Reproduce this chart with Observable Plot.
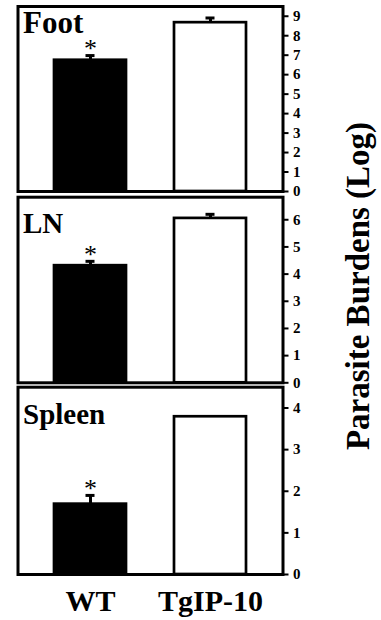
<!DOCTYPE html>
<html>
<head>
<meta charset="utf-8">
<script src="https://cdn.jsdelivr.net/npm/d3@7"></script>
<script src="https://cdn.jsdelivr.net/npm/@observablehq/plot@0.6"></script>
<style>
  body { margin: 0; background: #fff; }
  #chart { position: relative; width: 381px; height: 620px; overflow: hidden;
           font-family: "Liberation Serif", Tinos, "Times New Roman", Times, "DejaVu Serif", serif; font-weight: bold; color: #000; }
  #chart svg { position: absolute; left: 0; }
  #ytitle { position: absolute; left: 358px; top: 286px; white-space: nowrap;
            transform: translate(-50%, -50%) rotate(-90deg); font-size: 33px; line-height: 1; }
</style>
</head>
<body>
<div id="chart"><div id="ytitle">Parasite Burdens (Log)</div></div>
<script>
// Mouse groups and tissues
const groups = ["WT", "TgIP-10"];
const tissues = ["Foot", "LN", "Spleen"];

// Mean parasite burden (log) and upper error per group
const footMeans = [6.74, 8.67];
const footErrors = [0.24, 0.24];
const lnMeans = [4.31, 6.05];
const lnErrors = [0.16, 0.15];
const spleenMeans = [1.69, 3.79];
const spleenErrors = [0.21, 0];

// Significant difference versus TgIP-10
const significant = [true, false];

// Axis limits and tick values per tissue
const footLimit = 9.5;
const lnLimit = 6.83;
const spleenLimit = 4.5;
const footTicks = [0, 1, 2, 3, 4, 5, 6, 7, 8, 9];
const lnTicks = [0, 1, 2, 3, 4, 5, 6];
const spleenTicks = [0, 1, 2, 3, 4];

const serif = "'Liberation Serif', Tinos, 'Times New Roman', Times, 'DejaVu Serif', serif";
const chart = document.getElementById("chart");
const svgStyle = `background: transparent; overflow: visible; font-family: ${serif}; font-weight: bold;`;

function panel({name, means, errors, limit, ticks, top, height, marginTop, marginBottom, showX, labelDy, labelSize}) {
  const rows = groups.map((g, i) => ({group: g, mean: means[i], err: errors[i], sig: significant[i]}));
  const withErr = rows.filter(d => d.err > 0);
  const marks = [
    Plot.barY(rows, {x: "group", y: "mean", fill: "group", stroke: "black", strokeWidth: 2.7}),
    Plot.ruleX(withErr, {x: "group", y1: "mean", y2: d => d.mean + d.err, strokeWidth: 3}),
    Plot.tickY(withErr, {x: "group", y: d => d.mean + d.err, strokeWidth: 3, insetLeft: 31.5, insetRight: 31.5}),
    Plot.text(rows.filter(d => d.sig), {x: "group", y: d => d.mean + d.err, text: () => "*", fontSize: 26, fontFamily: serif, fontWeight: "normal", dy: -7}),
    Plot.text([name], {frameAnchor: "top-left", textAnchor: "start", lineAnchor: "top", dx: 5, dy: labelDy, fontSize: labelSize, fontFamily: serif, fontWeight: "bold"}),
    Plot.frame({strokeWidth: 3}),
    Plot.axisY({ticks, tickFormat: "d", anchor: "right", tickSize: 5, tickPadding: 5, strokeWidth: 2, fontSize: 15, fontFamily: serif, fontWeight: "bold", label: null})
  ];
  if (showX) marks.push(Plot.axisX({tickSize: 0, tickPadding: 15, fontSize: 30, fontFamily: serif, fontWeight: "bold", label: null}));
  const svg = Plot.plot({
    width: 381,
    height,
    marginLeft: 17.5,
    marginRight: 98.5,
    marginTop,
    marginBottom,
    style: svgStyle,
    x: {domain: groups, paddingInner: 0.4, paddingOuter: 0.3, ...(showX ? {} : {axis: null})},
    y: {domain: [0, limit]},
    color: {domain: groups, range: ["black", "white"]},
    marks
  });
  svg.style.position = "absolute";
  svg.style.left = "0px";
  svg.style.top = top + "px";
  chart.appendChild(svg);
}

panel({name: tissues[0], means: footMeans, errors: footErrors, limit: footLimit, ticks: footTicks,
       top: 0, height: 200, marginTop: 6, marginBottom: 9, showX: false, labelDy: 4, labelSize: 31});
panel({name: tissues[1], means: lnMeans, errors: lnErrors, limit: lnLimit, ticks: lnTicks,
       top: 190, height: 200, marginTop: 6.7, marginBottom: 7.7, showX: false, labelDy: 15, labelSize: 29});
panel({name: tissues[2], means: spleenMeans, errors: spleenErrors, limit: spleenLimit, ticks: spleenTicks,
       top: 380, height: 240, marginTop: 6.7, marginBottom: 46, showX: true, labelDy: 16, labelSize: 29});
</script>
</body>
</html>
